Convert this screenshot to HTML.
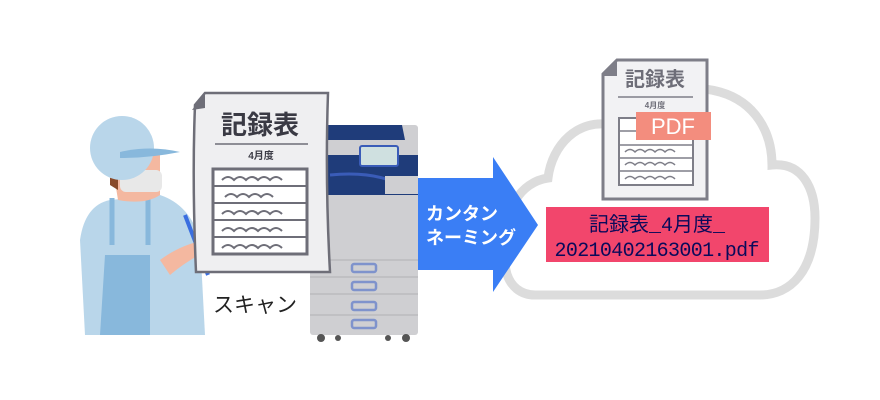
<!DOCTYPE html>
<html><head><meta charset="utf-8"><style>
html,body{margin:0;padding:0;background:#fff;width:880px;height:400px;overflow:hidden}
svg{display:block}
text{font-family:"Liberation Sans","Noto Sans CJK JP",sans-serif}
text.mono{font-family:"Liberation Mono","Noto Sans CJK JP",monospace}
</style></head><body>
<svg width="880" height="400" viewBox="0 0 880 400" xmlns="http://www.w3.org/2000/svg">
<path d="M535 295 C505 295 498 258 512 240 C502 212 520 182 548 178 C552 145 578 118 612 125 C632 92 685 82 720 92 C755 102 772 132 772 165 C802 162 815 188 815 218 C815 272 790 295 760 295 Z" fill="#fff" stroke="#dcdcdc" stroke-width="9"/>
<path d="M617 60 L707 60 L707 199 L603 199 L603 74 Z" fill="#f2f2f4" stroke="#7e7e88" stroke-width="3"/>
<path d="M603 76 L617 60 L617 76 Z" fill="#7e7e88"/>
<text x="655" y="86" font-size="20" fill="#6e6e78" text-anchor="middle" font-weight="bold">記録表</text>
<line x1="618" y1="97" x2="693" y2="97" stroke="#7e7e88" stroke-width="1.5"/>
<text x="655" y="108" font-size="8" fill="#6e6e78" text-anchor="middle" font-weight="bold">4月度</text>
<rect x="619" y="118" width="74" height="67" fill="#fff" stroke="#7e7e88" stroke-width="2"/>
<g stroke="#7e7e88" stroke-width="1.5" fill="none">
<line x1="619" y1="131" x2="693" y2="131"/><line x1="619" y1="145" x2="693" y2="145"/><line x1="619" y1="158" x2="693" y2="158"/><line x1="619" y1="171" x2="693" y2="171"/>
<path d="M625 152 q5 -5 10 0 q5 -5 10 0 q5 -5 10 0 q5 -5 10 0 q5-5 10 0"/>
<path d="M625 165 q5 -5 10 0 q5 -5 10 0 q5 -5 10 0 q5 -5 10 0 q5-5 10 0"/>
<path d="M625 179 q5 -5 10 0 q5 -5 10 0 q5 -5 10 0 q5 -5 10 0 q5-5 10 0"/>
</g>
<rect x="636" y="112" width="75" height="28" fill="#f38d7e"/>
<text x="673" y="134" font-size="22" fill="#fff" text-anchor="middle">PDF</text>
<rect x="546" y="207" width="223" height="55" fill="#f2466c"/>
<text class="mono" x="657" y="231" font-size="20" fill="#0a0a5a" text-anchor="middle">記録表_4月度_</text>
<text class="mono" x="657" y="256" font-size="20" fill="#0a0a5a" text-anchor="middle" textLength="205">20210402163001.pdf</text>
<rect x="310" y="125" width="108" height="210" rx="3" fill="#cfcfd2"/>
<path d="M328 125 L402 125 L405 140 L328 140 Z" fill="#1f3c7a"/>
<rect x="328" y="155" width="90" height="40" fill="#1f3c7a"/>
<path d="M330 175 Q380 170 410 190" stroke="#3a5cb8" stroke-width="3" fill="none"/>
<rect x="360" y="146" width="38" height="20" rx="2" fill="#cfe0e0" stroke="#3a5cb8" stroke-width="2"/>
<rect x="385" y="176" width="33" height="18" fill="#cfcfd2"/>
<g stroke="#b0b0b4" stroke-width="1"><line x1="310" y1="260" x2="418" y2="260"/><line x1="310" y1="277" x2="418" y2="277"/><line x1="310" y1="294" x2="418" y2="294"/><line x1="310" y1="315" x2="418" y2="315"/></g>
<g fill="none" stroke="#7f93cc" stroke-width="2.5"><rect x="352" y="264" width="24" height="8" rx="2"/><rect x="352" y="282" width="24" height="8" rx="2"/><rect x="352" y="302" width="24" height="8" rx="2"/><rect x="352" y="320" width="24" height="8" rx="2"/></g>
<g fill="#555"><circle cx="321" cy="338" r="4"/><circle cx="338" cy="338" r="3"/><circle cx="388" cy="338" r="3"/><circle cx="406" cy="338" r="4"/></g>
<path d="M418 178 L493 178 L493 157 L538 225 L493 292 L493 270 L418 270 Z" fill="#3a7ef5"/>
<text x="426" y="220" font-size="18" fill="#fff" font-weight="bold">カンタン</text>
<text x="426" y="244" font-size="18" fill="#fff" font-weight="bold">ネーミング</text>
<path d="M85 335 L80 240 Q85 205 110 200 L160 195 Q190 205 200 240 L205 335 Z" fill="#b9d6ea"/>
<path d="M100 335 L105 255 L150 255 L150 335 Z" fill="#88b8dc"/>
<path d="M112 198 L112 245 M148 196 L148 245" stroke="#88b8dc" stroke-width="5"/>
<path d="M110 150 L160 150 L160 195 Q145 205 118 200 Z" fill="#f4b8a0"/>
<path d="M110 150 L118 150 L118 190 L110 185 Z" fill="#8a4a2a"/>
<rect x="120" y="170" width="42" height="22" rx="6" fill="#e8e8e8"/>
<circle cx="122" cy="148" r="32" fill="#b9d6ea"/>
<path d="M120 152 Q150 145 180 152 Q150 158 120 158 Z" fill="#88b8dc"/>
<path d="M160 260 Q180 245 205 240 L208 250 Q185 262 170 275 Z" fill="#f4b8a0"/>
<line x1="185" y1="215" x2="208" y2="275" stroke="#3a6ee0" stroke-width="4"/>
<path d="M205 93 L328 93 Q325 180 330 272 L196 272 Q192 180 195 105 Z" fill="#efeff1" stroke="#6e6e78" stroke-width="2.5"/>
<path d="M192 110 L205 93 L205 108 Z" fill="#6e6e78"/>
<text x="260" y="134" font-size="26" fill="#3a3a44" text-anchor="middle" font-weight="bold">記録表</text>
<line x1="215" y1="144" x2="308" y2="144" stroke="#6e6e78" stroke-width="1.5"/>
<text x="261" y="159" font-size="10" fill="#3a3a44" text-anchor="middle" font-weight="bold">4月度</text>
<rect x="213" y="169" width="94" height="85" fill="#fff" stroke="#6e6e78" stroke-width="3"/>
<g stroke="#6e6e78" stroke-width="2" fill="none">
<line x1="213" y1="186" x2="307" y2="186"/><line x1="213" y1="203" x2="307" y2="203"/><line x1="213" y1="220" x2="307" y2="220"/><line x1="213" y1="237" x2="307" y2="237"/>
<path d="M222 180 q6 -6 12 0 q6 -6 12 0 q6 -6 12 0 q6 -6 12 0 q6-6 12 0"/>
<path d="M225 197 q6 -6 12 0 q6 -6 12 0 q6 -6 12 0 q6 -6 12 0"/>
<path d="M222 214 q6 -6 12 0 q6 -6 12 0 q6 -6 12 0 q6 -6 12 0 q6-6 12 0"/>
<path d="M222 231 q6 -6 12 0 q6 -6 12 0 q6 -6 12 0 q6 -6 12 0 q6-6 12 0"/>
<path d="M222 248 q6 -6 12 0 q6 -6 12 0 q6 -6 12 0 q6 -6 12 0 q6-6 12 0"/>
</g>
<text x="213" y="312" font-size="21" fill="#222">スキャン</text>
</svg>
</body></html>
